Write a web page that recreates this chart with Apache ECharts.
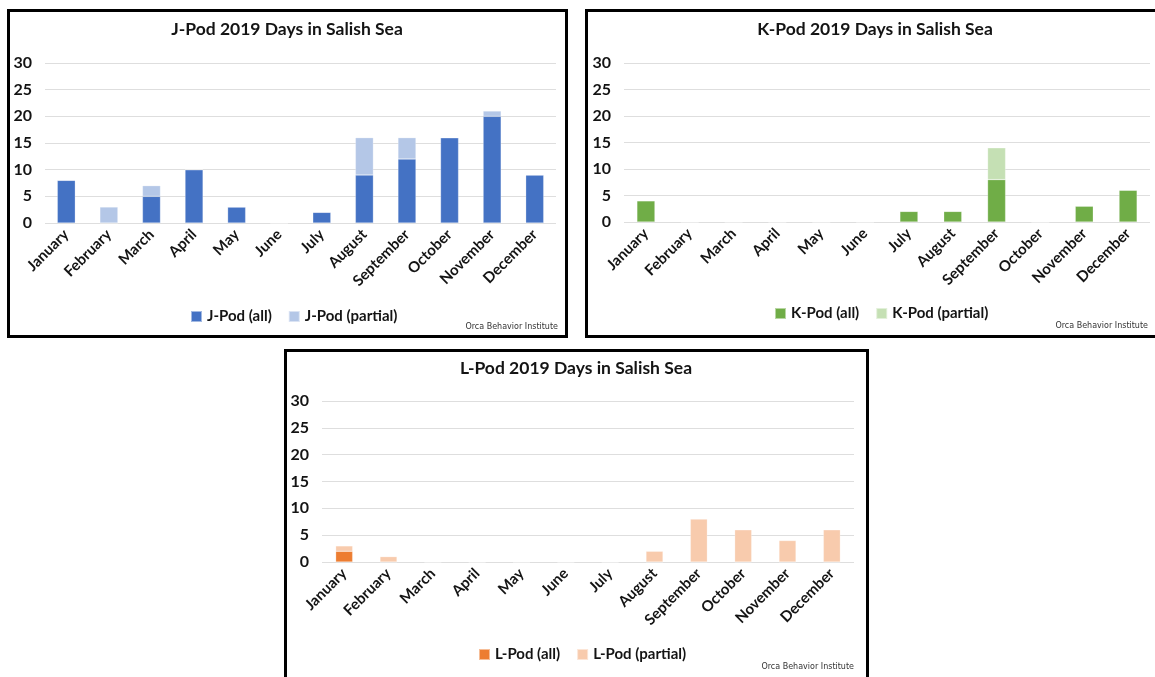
<!DOCTYPE html>
<html>
<head>
<meta charset="utf-8">
<script src="https://cdn.jsdelivr.net/npm/echarts@6/dist/echarts.min.js"></script>
<style>
  html, body { margin: 0; padding: 0; background: #fff; }
  #chart { width: 1155px; height: 677px; }
</style>
</head>
<body>
<div id="chart"></div>
<script>
const months = ['January', 'February', 'March', 'April', 'May', 'June',
  'July', 'August', 'September', 'October', 'November', 'December']
const yTicks = [0, 5, 10, 15, 20, 25, 30]

// days per month
const jAll = [8, 0, 5, 10, 3, 0, 2, 9, 12, 16, 20, 9]
const jPartial = [0, 3, 2, 0, 0, 0, 0, 7, 4, 0, 1, 0]
const kAll = [4, 0, 0, 0, 0, 0, 2, 2, 8, 0, 3, 6]
const kPartial = [0, 0, 0, 0, 0, 0, 0, 0, 6, 0, 0, 0]
const lAll = [2, 0, 0, 0, 0, 0, 0, 0, 0, 0, 0, 0]
const lPartial = [1, 1, 0, 0, 0, 0, 0, 2, 8, 6, 4, 6]

const FONT = 'Lato, "Open Sans", sans-serif'
const INK = '#141414'

const panels = [
  { pod: 'J', all: jAll, partial: jPartial, colors: ['#4472C4', '#B4C7E7'],
    grid: { left: 45, top: 63, width: 511, height: 160 },
    box: { x: 8.5, y: 10.5, width: 558, height: 326 },
    titleX: 287, titleY: 29, legend: { left: 185, top: 304 }, markX: 558, markY: 327, barWidth: 18 },
  { pod: 'K', all: kAll, partial: kPartial, colors: ['#70AD47', '#C5E0B4'],
    grid: { left: 624, top: 63, width: 526, height: 159 },
    box: { x: 586.5, y: 10.5, width: 620, height: 326 },
    titleX: 875, titleY: 29, legend: { left: 769, top: 301 }, markX: 1148, markY: 326, barWidth: 18 },
  { pod: 'L', all: lAll, partial: lPartial, colors: ['#ED7D31', '#F8CBAD'],
    grid: { left: 322, top: 401, width: 532, height: 161 },
    box: { x: 285.5, y: 350.5, width: 582, height: 400 },
    titleX: 576, titleY: 368, legend: { left: 473, top: 642 }, markX: 854, markY: 667, barWidth: 17 }
]

const chart = echarts.init(document.getElementById('chart'))

const grid = []
const xAxis = []
const yAxis = []
const legend = []
const series = []
const graphic = []

panels.forEach((p, i) => {
  grid.push(Object.assign({ containLabel: false, outerBoundsMode: 'none' }, p.grid))
  xAxis.push({
    type: 'category',
    gridIndex: i,
    data: months,
    axisLine: { show: false },
    axisTick: { show: false },
    axisLabel: {
      rotate: 45,
      margin: 9,
      interval: 0,
      color: INK,
      fontFamily: FONT,
      fontWeight: 'bold',
      fontSize: 15
    }
  })
  yAxis.push({
    type: 'value',
    gridIndex: i,
    min: yTicks[0],
    max: yTicks[yTicks.length - 1],
    interval: yTicks[1] - yTicks[0],
    axisLine: { show: false },
    axisTick: { show: false },
    axisLabel: {
      margin: 13,
      color: INK,
      fontFamily: FONT,
      fontWeight: 'bold',
      fontSize: 16
    },
    splitLine: { lineStyle: { color: '#dedede', width: 1 } }
  })
  const names = [p.pod + '-Pod (all)', p.pod + '-Pod (partial)']
  legend.push(Object.assign({
    data: names,
    orient: 'horizontal',
    icon: 'rect',
    itemWidth: 11,
    itemHeight: 11,
    itemGap: 16,
    textStyle: { color: INK, fontFamily: FONT, fontWeight: 'bold', fontSize: 15 }
  }, p.legend))
  series.push({
    name: names[0],
    type: 'bar',
    stack: p.pod,
    xAxisIndex: i,
    yAxisIndex: i,
    barWidth: p.barWidth,
    itemStyle: { color: p.colors[0], borderColor: 'rgba(255,255,255,0.5)', borderWidth: 0.5 },
    data: p.all
  })
  series.push({
    name: names[1],
    type: 'bar',
    stack: p.pod,
    xAxisIndex: i,
    yAxisIndex: i,
    barWidth: p.barWidth,
    itemStyle: { color: p.colors[1], borderColor: 'rgba(255,255,255,0.5)', borderWidth: 0.5 },
    data: p.partial
  })
  graphic.push({
    type: 'rect',
    shape: p.box,
    style: { fill: 'none', stroke: '#000', lineWidth: 3 },
    silent: true
  })
  graphic.push({
    type: 'text',
    x: p.titleX,
    y: p.titleY,
    style: {
      text: p.pod + '-Pod 2019 Days in Salish Sea',
      fill: INK,
      font: 'bold 17.5px ' + FONT,
      textAlign: 'center',
      textVerticalAlign: 'middle'
    }
  })
  graphic.push({
    type: 'text',
    x: p.markX,
    y: p.markY,
    style: {
      text: 'Orca Behavior Institute',
      fill: '#333',
      font: '8px "DejaVu Sans", sans-serif',
      textAlign: 'right',
      textVerticalAlign: 'middle'
    }
  })
})

chart.setOption({
  backgroundColor: '#fff',
  animation: false,
  grid: grid,
  xAxis: xAxis,
  yAxis: yAxis,
  legend: legend,
  series: series,
  graphic: graphic
})
</script>
</body>
</html>
